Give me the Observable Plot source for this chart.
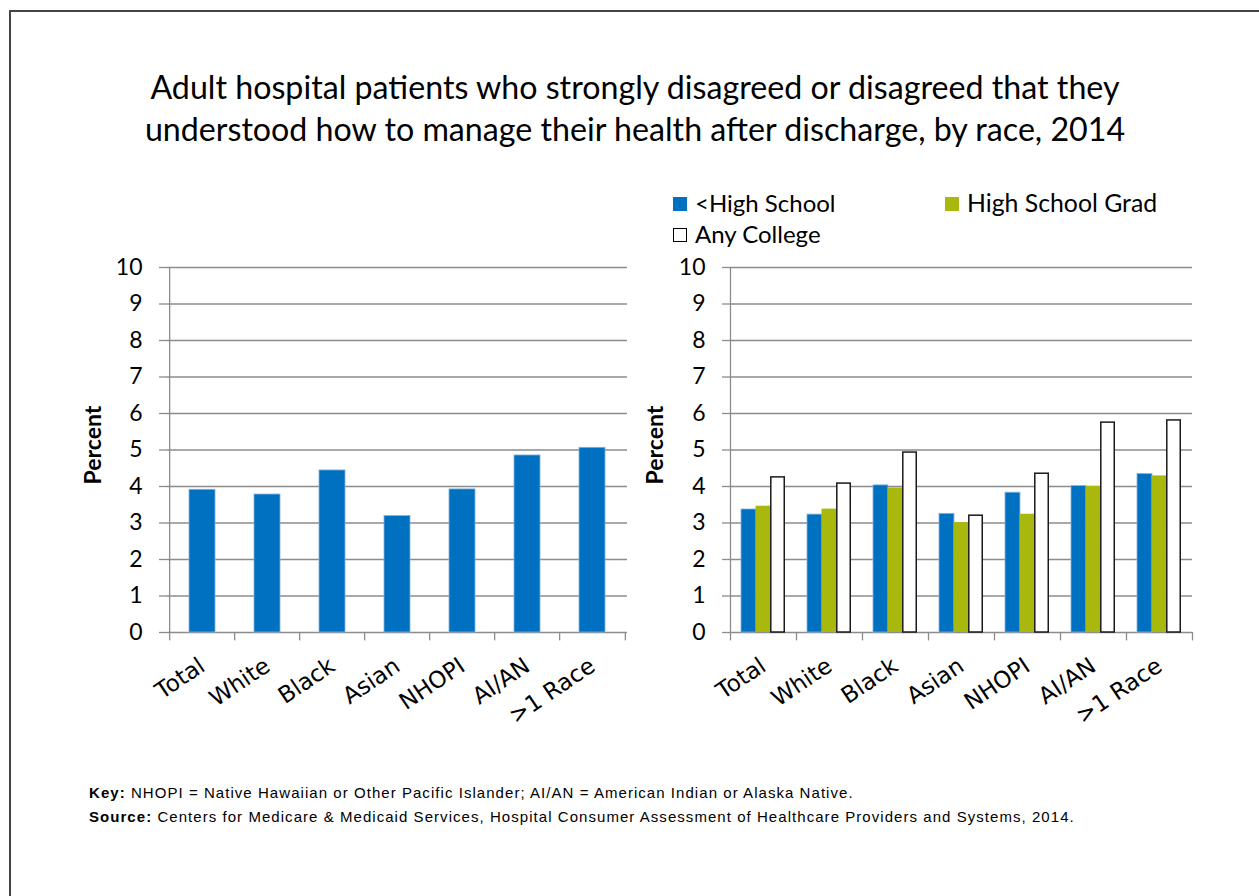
<!DOCTYPE html>
<html>
<head>
<meta charset="utf-8">
<script src="https://cdn.jsdelivr.net/npm/d3@7"></script>
<script src="https://cdn.jsdelivr.net/npm/@observablehq/plot@0.6"></script>
<style>
  html, body { margin: 0; padding: 0; background: #fff; }
  body { width: 1259px; height: 896px; position: relative; overflow: hidden; font-family: Lato, sans-serif; }
  .frame { position: absolute; left: 9px; top: 10px; width: 1400px; height: 1000px; border-left: 2px solid #444; border-top: 2px solid #444; }
  .title { position: absolute; left: 0; top: 66px; width: 1270px; text-align: center; font-size: 32.2px; line-height: 42px; color: #000; }
  .chart { position: absolute; }
  .ylabel { position: absolute; font-weight: bold; font-size: 23px; transform: rotate(-90deg); transform-origin: center; white-space: nowrap; }
  .legend { position: absolute; font-size: 24px; line-height: 30px; white-space: nowrap; color: #000; }
  .sw { position: absolute; width: 14px; height: 14px; box-sizing: border-box; }
  .note { position: absolute; left: 89px; font-family: "Liberation Sans", Arial, sans-serif; font-size: 15px; letter-spacing: 1.05px; white-space: nowrap; color: #000; }
</style>
</head>
<body>
<div class="frame"></div>
<div class="title">Adult hospital patients who strongly disagreed or disagreed that they<br>understood how to manage their health after discharge, by race, 2014</div>
<div id="left" class="chart" style="left:70px; top:250px;"></div>
<div id="right" class="chart" style="left:630px; top:250px;"></div>
<div class="ylabel" style="left:53px; top:431px;">Percent</div>
<div class="ylabel" style="left:615px; top:431px;">Percent</div>
<div id="legend"></div>
<div class="note" style="top:784px;"><b>Key:</b> NHOPI = Native Hawaiian or Other Pacific Islander; AI/AN = American Indian or Alaska Native.</div>
<div class="note" style="top:808px;"><b>Source:</b> Centers for Medicare &amp; Medicaid Services, Hospital Consumer Assessment of Healthcare Providers and Systems, 2014.</div>
<script>
// ---------- data ----------
const categories = ["Total", "White", "Black", "Asian", "NHOPI", "AI/AN", ">1 Race"];
const totalValues = [3.91, 3.78, 4.44, 3.19, 3.92, 4.85, 5.06];
const seriesNames = ["<High School", "High School Grad", "Any College"];
const lessHighSchool = [3.37, 3.23, 4.03, 3.25, 3.83, 4.01, 4.34];
const highSchoolGrad = [3.46, 3.38, 3.96, 3.01, 3.24, 4.00, 4.29];
const anyCollege = [4.25, 4.08, 4.93, 3.20, 4.35, 5.75, 5.81];
const yTicks = [0, 1, 2, 3, 4, 5, 6, 7, 8, 9, 10];

// ---------- styles ----------
const blue = "#0070C0";
const gridColor = "#8c8c8c";
const seriesFill = ["#0070C0", "#A8B80C", "#ffffff"];

const leftRows = categories.map((c, i) => ({category: c, value: totalValues[i]}));
const seriesValues = [lessHighSchool, highSchoolGrad, anyCollege];
const rightRows = seriesNames.map((s, k) => categories.map((c, i) => ({category: c, series: s, value: seriesValues[k][i]})));

function baseMarks(step) {
  const last = categories[categories.length - 1];
  return [
    Plot.ruleY(yTicks, {y: d => d, stroke: gridColor, strokeWidth: 1.3}),
    Plot.ruleX(categories, {x: d => d, dx: -step / 2, y1: -0.23, y2: 0, stroke: gridColor, strokeWidth: 1.3}),
    Plot.ruleX([last], {x: d => d, dx: step / 2, y1: -0.23, y2: 0, stroke: gridColor, strokeWidth: 1.3}),
    Plot.ruleX([categories[0]], {x: d => d, dx: -step / 2, y1: 0, y2: 10, stroke: gridColor, strokeWidth: 1.3})
  ];
}
function axes() {
  return [
    Plot.axisY(yTicks, {tickSize: 8, tickPadding: 17, fontSize: 23, fontFamily: "Lato", stroke: gridColor, fill: "#000", label: null, strokeWidth: 1.3}),
    Plot.axisX({tickSize: 0, tickRotate: -34, tickPadding: 31, dx: 0, fontSize: 23, fontFamily: "DejaVu Sans", fill: "#000", label: null})
  ];
}

// ---------- left chart ----------
const leftWidth = 460;
const stepL = leftWidth / categories.length;
const leftPlot = Plot.plot({
  width: 97 + leftWidth + 20, height: 17 + 365 + 110,
  marginLeft: 97, marginRight: 20, marginTop: 17, marginBottom: 110,
  style: {background: "transparent", overflow: "visible", color: "#000"},
  x: {domain: categories, paddingInner: 0.6, paddingOuter: 0.3, axis: null},
  y: {domain: [0, 10], axis: null},
  marks: [
    ...baseMarks(stepL),
    Plot.barY(leftRows, {x: "category", y: "value", fill: blue, stroke: "#7fb2e0", strokeWidth: 0.8}),
    ...axes()
  ]
});
document.getElementById("left").appendChild(leftPlot);

// ---------- right chart ----------
const rightWidth = 462;
const stepR = rightWidth / categories.length;
const groupFrac = 0.66;
const bw = stepR * groupFrac;
const third = bw / 3;
const rightPlot = Plot.plot({
  width: 100 + rightWidth + 20, height: 17 + 365 + 110,
  marginLeft: 100, marginRight: 20, marginTop: 17, marginBottom: 110,
  style: {background: "transparent", overflow: "visible", color: "#000"},
  x: {domain: categories, paddingInner: 1 - groupFrac, paddingOuter: (1 - groupFrac) / 2, axis: null},
  y: {domain: [0, 10], axis: null},
  marks: [
    ...baseMarks(stepR),
    Plot.barY(rightRows[0], {x: "category", y: "value", fill: seriesFill[0], insetLeft: 0, insetRight: 2 * third, stroke: "#7fb2e0", strokeWidth: 0.8}),
    Plot.barY(rightRows[1], {x: "category", y: "value", fill: seriesFill[1], insetLeft: third, insetRight: third}),
    Plot.barY(rightRows[2], {x: "category", y: "value", fill: seriesFill[2], insetLeft: 2 * third + 0.75, insetRight: 0.75, stroke: "#1a1a1a", strokeWidth: 1.5}),
    ...axes()
  ]
});
document.getElementById("right").appendChild(rightPlot);

// ---------- legend ----------
const legendItems = [
  {name: seriesNames[0], fill: seriesFill[0], border: "none", sx: 673, sy: 197, tx: 695, ty: 188, size: 24},
  {name: seriesNames[1], fill: seriesFill[1], border: "none", sx: 945, sy: 197, tx: 967, ty: 188, size: 24.8},
  {name: seriesNames[2], fill: seriesFill[2], border: "1.5px solid #000", sx: 673, sy: 228, tx: 695, ty: 219, size: 24}
];
const lg = document.getElementById("legend");
legendItems.forEach(it => {
  const s = document.createElement("div");
  s.className = "sw";
  s.style.left = it.sx + "px"; s.style.top = it.sy + "px";
  s.style.background = it.fill; s.style.border = it.border;
  lg.appendChild(s);
  const t = document.createElement("div");
  t.className = "legend";
  t.style.left = it.tx + "px"; t.style.top = it.ty + "px";
  t.style.fontSize = it.size + "px";
  t.textContent = it.name;
  lg.appendChild(t);
});
</script>
</body>
</html>
